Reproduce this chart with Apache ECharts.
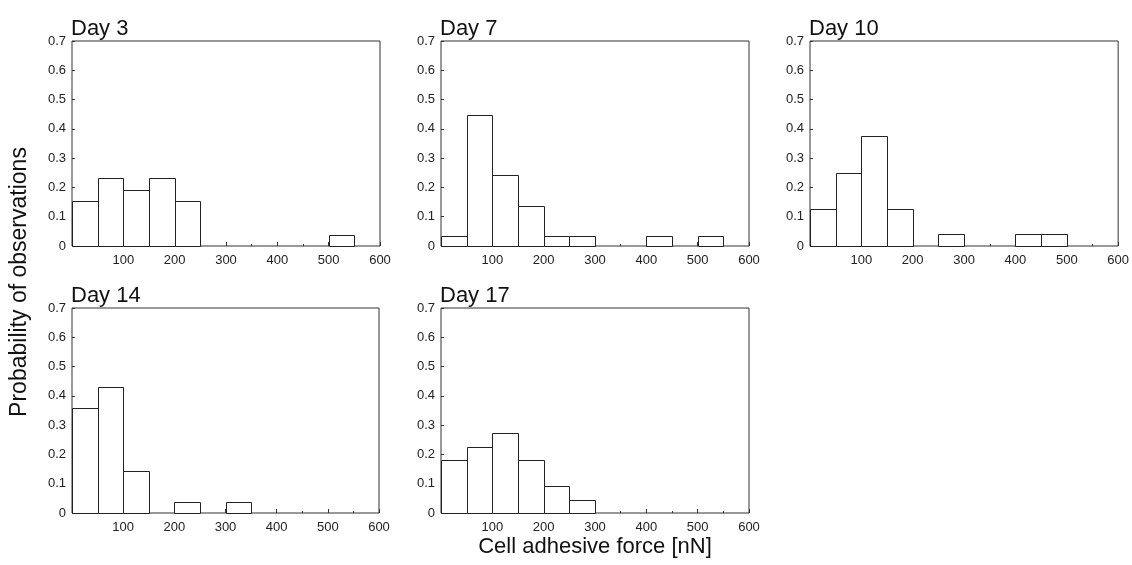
<!DOCTYPE html>
<html>
<head>
<meta charset="utf-8">
<script src="https://cdn.jsdelivr.net/npm/echarts@6/dist/echarts.min.js"></script>
<style>
  html, body { margin: 0; padding: 0; background: #fff; }
  #chart { width: 1132px; height: 565px; }
</style>
</head>
<body>
<div id="chart"></div>
<script>
// Histogram bins of cell adhesive force, 50 nN wide, from 0 to 600 nN
const binStarts = [0, 50, 100, 150, 200, 250, 300, 350, 400, 450, 500, 550];
const binWidth = 50;

// Probability of observations per bin for each culture day
const day3 = [0.154, 0.231, 0.192, 0.231, 0.154, 0, 0, 0, 0, 0, 0.038, 0];
const day7 = [0.035, 0.448, 0.241, 0.138, 0.035, 0.035, 0, 0, 0.035, 0, 0.035, 0];
const day10 = [0.125, 0.25, 0.375, 0.125, 0, 0.042, 0, 0, 0.042, 0.042, 0, 0];
const day14 = [0.357, 0.429, 0.143, 0, 0.036, 0, 0.036, 0, 0, 0, 0, 0];
const day17 = [0.182, 0.227, 0.273, 0.182, 0.091, 0.045, 0, 0, 0, 0, 0, 0];

const panelTitles = ['Day 3', 'Day 7', 'Day 10', 'Day 14', 'Day 17'];
const panelValues = [day3, day7, day10, day14, day17];

const xTicks = { min: 0, max: 600, interval: 100 };
const yTicks = { min: 0, max: 0.7, interval: 0.1 };

// Panel placement in pixels: [left, top, width, height]
const panelBoxes = [
  [72, 41, 308, 205],
  [441, 41, 308, 205],
  [810, 41, 309, 205],
  [72, 308, 307, 205],
  [441, 308, 308, 205]
];

const FONT = "'Liberation Sans', Arial, sans-serif";
const INK = '#222';

const grids = [], xAxes = [], yAxes = [], series = [], titles = [];

panelBoxes.forEach(function (box, i) {
  grids.push({
    left: box[0], top: box[1], width: box[2], height: box[3],
    show: true, borderColor: '#333', borderWidth: 1, backgroundColor: 'transparent'
  });
  xAxes.push({
    type: 'value', gridIndex: i,
    min: xTicks.min, max: xTicks.max, interval: xTicks.interval,
    axisLine: { show: false },
    axisTick: { show: true, inside: true, length: 4, lineStyle: { color: '#333' } },
    minorTick: { show: true, splitNumber: 2, length: 2, lineStyle: { color: '#333' } },
    splitLine: { show: false },
    axisLabel: {
      color: INK, fontFamily: FONT, fontSize: 13, margin: 8,
      formatter: function (v) { return v === 0 ? '' : String(v); }
    }
  });
  yAxes.push({
    type: 'value', gridIndex: i,
    min: yTicks.min, max: yTicks.max, interval: yTicks.interval,
    axisLine: { show: false },
    axisTick: { show: true, inside: true, length: 3, lineStyle: { color: '#333' } },
    splitLine: { show: false },
    axisLabel: { color: INK, fontFamily: FONT, fontSize: 13, margin: 6 }
  });
  const data = [];
  panelValues[i].forEach(function (v, k) {
    if (v > 0) data.push([binStarts[k], binStarts[k] + binWidth, v]);
  });
  series.push({
    type: 'custom', xAxisIndex: i, yAxisIndex: i, data: data,
    renderItem: function (params, api) {
      const p0 = api.coord([api.value(0), 0]);
      const p1 = api.coord([api.value(1), api.value(2)]);
      const x0 = Math.round(p0[0]) + 0.5, x1 = Math.round(p1[0]) + 0.5;
      const yb = Math.round(p0[1]) + 0.5, yt = Math.round(p1[1]) + 0.5;
      return {
        type: 'rect',
        shape: { x: x0, y: yt, width: x1 - x0, height: yb - yt },
        style: { fill: '#fff', stroke: INK, lineWidth: 1 }
      };
    }
  });
  titles.push({
    text: panelTitles[i], left: box[0] - 1, top: box[1] - 23,
    padding: 0,
    textStyle: { fontFamily: FONT, fontSize: 22, fontWeight: 'normal', color: '#111' }
  });
});

const chart = echarts.init(document.getElementById('chart'), null, { renderer: 'canvas' });
chart.setOption({
  animation: false,
  backgroundColor: '#fff',
  title: titles,
  grid: grids,
  xAxis: xAxes,
  yAxis: yAxes,
  series: series,
  graphic: [
    {
      type: 'text', x: 20, y: 282, rotation: Math.PI / 2,
      style: {
        text: 'Probability of observations', fontFamily: FONT, fontSize: 23,
        fill: '#111', textAlign: 'center', textVerticalAlign: 'middle'
      }
    },
    {
      type: 'text', x: 595, y: 547,
      style: {
        text: 'Cell adhesive force [nN]', fontFamily: FONT, fontSize: 22,
        fill: '#111', textAlign: 'center', textVerticalAlign: 'middle'
      }
    }
  ]
});
</script>
</body>
</html>
